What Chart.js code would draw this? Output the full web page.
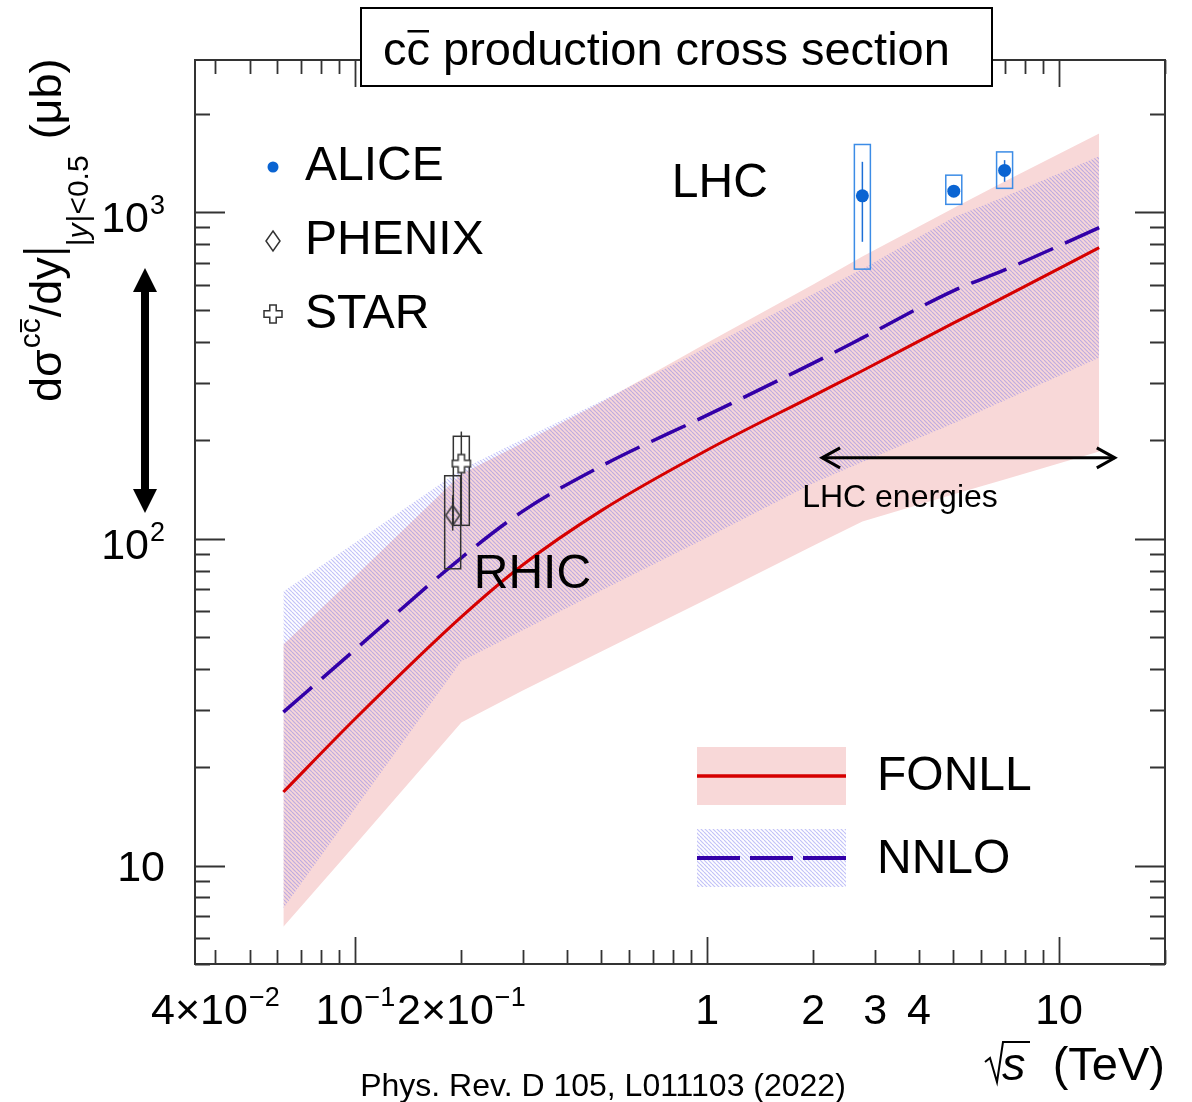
<!DOCTYPE html>
<html>
<head>
<meta charset="utf-8">
<title>ccbar production cross section</title>
<script src="https://cdn.jsdelivr.net/npm/chart.js@4.4.1/dist/chart.umd.min.js"></script>
<style>
  html, body { margin: 0; padding: 0; background: #fff; }
</style>
</head>
<body>
<canvas id="xsecChart" width="1192" height="1102"></canvas>
<script>

// sqrt(s) in TeV where the calculations are evaluated
var energies = [0.0624, 0.1, 0.2, 0.3, 0.5, 1, 2, 2.76, 5.02, 7, 13];

// dsigma/dy (mub), |y|<0.5
var fonllCentral = [16.8, 28.2, 57.7, 83.5, 122, 187, 274, 327, 458, 550, 778];
var fonllUpper   = [47.5, 77, 158, 197, 262, 398, 600, 731, 1029, 1241, 1741];
var fonllLower   = [6.5, 11.6, 27.4, 34.4, 45.2, 65.5, 95.3, 113, 137, 152, 185];

var nnloCentral = [29.5, 45.9, 87.5, 121.8, 167, 239, 345, 412, 575, 665, 896];
var nnloUpper   = [69, 97.5, 163, 202, 264, 386, 561, 670, 965, 1115, 1483];
var nnloLower   = [7.4, 15.0, 42.2, 52.6, 69.5, 101, 148, 172, 226, 265, 358];

// measurements
var aliceEnergy   = [2.76, 5.02, 7];
var aliceXsec     = [1121, 1159, 1341];
var aliceStatLow  = [811, 1120, 1238];
var aliceStatHigh = [1425, 1200, 1442];
var aliceSysLow   = [669, 1056, 1182];
var aliceSysHigh  = [1610, 1297, 1528];

var phenixEnergy   = [0.189];
var phenixXsec     = [118];
var phenixStatLow  = [106];
var phenixStatHigh = [136];
var phenixSysLow   = [81];
var phenixSysHigh  = [156];

var starEnergy   = [0.2];
var starXsec     = [170];
var starStatLow  = [110];
var starStatHigh = [213];
var starSysLow   = [110];
var starSysHigh  = [206];

// axis labels
var xTickLabels = [
	{ v: 0.04, base: '4×10', exp: '−2' },
	{ v: 0.1, base: '10', exp: '−1' },
	{ v: 0.2, base: '2×10', exp: '−1' },
	{ v: 1, base: '1' },
	{ v: 2, base: '2' },
	{ v: 3, base: '3' },
	{ v: 4, base: '4' },
	{ v: 10, base: '10' }
];
var yTickLabels = [
	{ v: 10, base: '10' },
	{ v: 100, base: '10', exp: '2' },
	{ v: 1000, base: '10', exp: '3' }
];

var FONT = '"Liberation Sans", Arial, Helvetica, sans-serif';
var PINK = '#f8d8d8';
var RED = '#d60000';
var NNLO_BLUE = '#3300a8';
var ALICE_BLUE = '#0a64d2';

function toXY(xs, ys) {
	var out = [];
	for (var i = 0; i < xs.length; i++) {
		out.push({ x: xs[i], y: ys[i] });
	}
	return out;
}

function makeHatch() {
	var s = 4;
	var c = document.createElement('canvas');
	c.width = s; c.height = s;
	var g = c.getContext('2d');
	g.strokeStyle = 'rgba(110, 110, 235, 0.42)';
	g.lineWidth = 1.2;
	for (var k = -1; k <= 1; k++) {
		g.beginPath();
		g.moveTo(k * s, 0);
		g.lineTo(k * s + s, s);
		g.stroke();
	}
	return document.getElementById('xsecChart').getContext('2d').createPattern(c, 'repeat');
}

function makeDiamond() {
	var c = document.createElement('canvas');
	c.width = 18; c.height = 24;
	var g = c.getContext('2d');
	g.strokeStyle = '#333';
	g.lineWidth = 1.5;
	g.beginPath();
	g.moveTo(9, 2); g.lineTo(16, 12); g.lineTo(9, 22); g.lineTo(2, 12);
	g.closePath();
	g.stroke();
	return c;
}

function makeOpenCross() {
	var c = document.createElement('canvas');
	c.width = 22; c.height = 22;
	var g = c.getContext('2d');
	var m = 11, a = 9, b = 3.2;
	g.beginPath();
	g.moveTo(m - b, m - a); g.lineTo(m + b, m - a); g.lineTo(m + b, m - b);
	g.lineTo(m + a, m - b); g.lineTo(m + a, m + b); g.lineTo(m + b, m + b);
	g.lineTo(m + b, m + a); g.lineTo(m - b, m + a); g.lineTo(m - b, m + b);
	g.lineTo(m - a, m + b); g.lineTo(m - a, m - b); g.lineTo(m - b, m - b);
	g.closePath();
	g.fillStyle = '#fff';
	g.fill();
	g.strokeStyle = '#333';
	g.lineWidth = 1.5;
	g.stroke();
	return c;
}

var hatch = makeHatch();
var diamondMarker = makeDiamond();
var crossMarker = makeOpenCross();

// text with a superscript part, returns drawn width
function powerText(ctx, base, exp, x, y, size, align) {
	ctx.font = size + 'px ' + FONT;
	var wb = ctx.measureText(base).width;
	var es = Math.round(size * 0.62);
	var we = 0;
	if (exp) {
		ctx.font = es + 'px ' + FONT;
		we = ctx.measureText(exp).width + 1;
	}
	var w = wb + we;
	var x0 = x;
	if (align === 'center') x0 = x - w / 2;
	if (align === 'right') x0 = x - w;
	ctx.textAlign = 'left';
	ctx.textBaseline = 'alphabetic';
	ctx.font = size + 'px ' + FONT;
	ctx.fillText(base, x0, y);
	if (exp) {
		ctx.font = es + 'px ' + FONT;
		ctx.fillText(exp, x0 + wb + 1, y - size * 0.42);
	}
	return w;
}

function drawErrors(ctx, xs, statLow, statHigh, sysLow, sysHigh, boxColor, barColor, sx, sy) {
	for (var i = 0; i < xs.length; i++) {
		var px = sx.getPixelForValue(xs[i]);
		ctx.strokeStyle = boxColor;
		ctx.lineWidth = 1.5;
		var t = sy.getPixelForValue(sysHigh[i]);
		var b = sy.getPixelForValue(sysLow[i]);
		ctx.strokeRect(px - 8, t, 16, b - t);
		ctx.strokeStyle = barColor;
		ctx.beginPath();
		ctx.moveTo(px, sy.getPixelForValue(statHigh[i]));
		ctx.lineTo(px, sy.getPixelForValue(statLow[i]));
		ctx.stroke();
	}
}

var errorBoxes = {
	id: 'errorBoxes',
	afterDatasetDraw: function(chart, args) {
		// boxes go under the markers, right after the central curves
		if (args.index !== 3) return;
		var ctx = chart.ctx, sx = chart.scales.x, sy = chart.scales.y;
		ctx.save();
		drawErrors(ctx, aliceEnergy, aliceStatLow, aliceStatHigh, aliceSysLow, aliceSysHigh, '#3c8ce6', '#1e6fd6', sx, sy);
		drawErrors(ctx, phenixEnergy, phenixStatLow, phenixStatHigh, phenixSysLow, phenixSysHigh, '#333', '#333', sx, sy);
		drawErrors(ctx, starEnergy, starStatLow, starStatHigh, starSysLow, starSysHigh, '#333', '#333', sx, sy);
		ctx.restore();
	}
};

function arrowHead(ctx, x, y, dx, dy, len, half) {
	// open chevron pointing along (dx, dy)
	ctx.beginPath();
	ctx.moveTo(x - dx * len - dy * half, y - dy * len + dx * half);
	ctx.lineTo(x, y);
	ctx.lineTo(x - dx * len + dy * half, y - dy * len - dx * half);
	ctx.stroke();
}

var frameAndText = {
	id: 'frameAndText',
	afterDraw: function(chart) {
		var ctx = chart.ctx, ca = chart.chartArea;
		var sx = chart.scales.x, sy = chart.scales.y;
		ctx.save();

		// frame
		ctx.strokeStyle = '#333';
		ctx.lineWidth = 2;
		ctx.strokeRect(ca.left, ca.top, ca.right - ca.left, ca.bottom - ca.top);

		// ticks, ROOT style (inside, mirrored)
		ctx.lineWidth = 1.8;
		ctx.beginPath();
		var d, m, v, p, len;
		for (d = 0.01; d <= 10; d *= 10) {
			for (m = 1; m <= 9; m++) {
				v = m * d;
				if (v < sx.min || v > sx.max) continue;
				p = Math.round(sx.getPixelForValue(v)) + 0.5;
				len = (m === 1) ? 27 : 14;
				ctx.moveTo(p, ca.bottom); ctx.lineTo(p, ca.bottom - len);
				ctx.moveTo(p, ca.top); ctx.lineTo(p, ca.top + len);
			}
		}
		for (d = 1; d <= 1000; d *= 10) {
			for (m = 1; m <= 9; m++) {
				v = m * d;
				if (v < sy.min || v > sy.max) continue;
				p = Math.round(sy.getPixelForValue(v)) + 0.5;
				len = (m === 1) ? 30 : 15;
				ctx.moveTo(ca.left, p); ctx.lineTo(ca.left + len, p);
				ctx.moveTo(ca.right, p); ctx.lineTo(ca.right - len, p);
			}
		}
		ctx.stroke();

		// tick labels
		ctx.fillStyle = '#000';
		var i, t;
		for (i = 0; i < xTickLabels.length; i++) {
			t = xTickLabels[i];
			powerText(ctx, t.base, t.exp, sx.getPixelForValue(t.v), ca.bottom + 60, 43, 'center');
		}
		for (i = 0; i < yTickLabels.length; i++) {
			t = yTickLabels[i];
			var yy = sy.getPixelForValue(t.v) + (t.exp ? 20 : 15);
			powerText(ctx, t.base, t.exp, ca.left - 30, yy, 43, 'right');
		}

		// x axis title: sqrt(s) (TeV)
		ctx.font = '47px ' + FONT;
		ctx.textAlign = 'right';
		ctx.fillText('(TeV)', ca.right, 1080);
		ctx.font = 'italic 47px ' + FONT;
		ctx.textAlign = 'left';
		ctx.fillText('s', 1002, 1080);
		ctx.lineWidth = 2;
		ctx.strokeStyle = '#000';
		ctx.beginPath();
		ctx.moveTo(985, 1062); ctx.lineTo(990, 1058); ctx.lineTo(997, 1082);
		ctx.lineTo(1003, 1042); ctx.lineTo(1030, 1042);
		ctx.stroke();

		// y axis title
		ctx.save();
		ctx.translate(61, 402);
		ctx.rotate(-Math.PI / 2);
		ctx.textAlign = 'left';
		ctx.textBaseline = 'alphabetic';
		var f = 45, x = 0;
		ctx.font = f + 'px ' + FONT;
		ctx.fillText('dσ', x, 0);
		x += ctx.measureText('dσ').width + 1;
		var fs = 30;
		ctx.font = fs + 'px ' + FONT;
		ctx.fillText('cc', x, -21);
		var wc = ctx.measureText('c').width;
		ctx.fillRect(x + wc + 1, -41, wc - 2, 2);
		x += ctx.measureText('cc').width + 1;
		ctx.font = f + 'px ' + FONT;
		ctx.fillText('/dy', x, 0);
		x += ctx.measureText('/dy').width + 6;
		ctx.lineWidth = 3;
		ctx.beginPath();
		ctx.moveTo(x, 9); ctx.lineTo(x, -38);
		ctx.stroke();
		x += 5;
		ctx.font = fs + 'px ' + FONT;
		ctx.fillText('|', x, 27);
		x += ctx.measureText('|').width;
		ctx.font = 'italic ' + fs + 'px ' + FONT;
		ctx.fillText('y', x, 27);
		x += ctx.measureText('y').width + 1;
		ctx.font = fs + 'px ' + FONT;
		ctx.fillText('|<0.5', x, 27);
		x += ctx.measureText('|<0.5').width + 16;
		ctx.font = f + 'px ' + FONT;
		ctx.fillText('(μb)', x, 0);
		ctx.restore();

		// source
		ctx.font = '32px ' + FONT;
		ctx.textAlign = 'center';
		ctx.fillText('Phys. Rev. D 105, L011103 (2022)', 603, 1096);

		// title box
		ctx.fillStyle = '#fff';
		ctx.fillRect(361, 8, 631, 78);
		ctx.strokeStyle = '#000';
		ctx.lineWidth = 2;
		ctx.strokeRect(361, 8, 631, 78);
		ctx.fillStyle = '#000';
		ctx.font = '47px ' + FONT;
		ctx.textAlign = 'left';
		var tx = 383;
		ctx.fillText('cc production cross section', tx, 65);
		var cw = ctx.measureText('c').width;
		ctx.fillRect(tx + cw + 1, 30, cw - 2, 2.5);

		// left vertical double arrow
		var ax = ca.left - 50;
		var aTop = sy.getPixelForValue(674), aBot = sy.getPixelForValue(120);
		ctx.fillStyle = '#000';
		ctx.fillRect(ax - 4, aTop + 20, 8, aBot - aTop - 40);
		ctx.beginPath();
		ctx.moveTo(ax, aTop); ctx.lineTo(ax + 12, aTop + 24); ctx.lineTo(ax - 12, aTop + 24);
		ctx.closePath(); ctx.fill();
		ctx.beginPath();
		ctx.moveTo(ax, aBot); ctx.lineTo(ax + 12, aBot - 24); ctx.lineTo(ax - 12, aBot - 24);
		ctx.closePath(); ctx.fill();

		// LHC energies arrow
		var y0 = sy.getPixelForValue(177);
		var x1 = sx.getPixelForValue(2.12), x2 = sx.getPixelForValue(14.4);
		ctx.strokeStyle = '#000';
		ctx.lineWidth = 3;
		ctx.beginPath();
		ctx.moveTo(x1, y0); ctx.lineTo(x2, y0);
		ctx.stroke();
		arrowHead(ctx, x1, y0, -1, 0, 18, 10);
		arrowHead(ctx, x2, y0, 1, 0, 18, 10);
		ctx.font = '32px ' + FONT;
		ctx.textAlign = 'center';
		ctx.fillText('LHC energies', sx.getPixelForValue(3.53), sy.getPixelForValue(125));

		// region labels
		ctx.font = '48px ' + FONT;
		ctx.textAlign = 'left';
		ctx.fillText('LHC', sx.getPixelForValue(0.793), sy.getPixelForValue(1111));
		ctx.fillText('RHIC', sx.getPixelForValue(0.217), sy.getPixelForValue(70.8));

		// legend: measurements
		var lx = ca.left + 78;
		ctx.fillStyle = ALICE_BLUE;
		ctx.beginPath();
		ctx.arc(lx, 167, 5.5, 0, Math.PI * 2);
		ctx.fill();
		ctx.drawImage(diamondMarker, lx - 9, 241 - 12);
		ctx.drawImage(crossMarker, lx - 11, 314 - 11);
		ctx.fillStyle = '#000';
		ctx.font = '48px ' + FONT;
		ctx.textBaseline = 'middle';
		ctx.fillText('ALICE', lx + 32, 167);
		ctx.fillText('PHENIX', lx + 32, 241);
		ctx.fillText('STAR', lx + 32, 315);

		// legend: calculations
		ctx.fillStyle = PINK;
		ctx.fillRect(697, 747, 149, 58);
		ctx.strokeStyle = RED;
		ctx.lineWidth = 3.5;
		ctx.beginPath();
		ctx.moveTo(697, 776); ctx.lineTo(846, 776);
		ctx.stroke();
		ctx.fillStyle = hatch;
		ctx.fillRect(697, 829, 149, 58);
		ctx.strokeStyle = NNLO_BLUE;
		ctx.lineWidth = 4;
		ctx.setLineDash([43, 10]);
		ctx.beginPath();
		ctx.moveTo(697, 858); ctx.lineTo(846, 858);
		ctx.stroke();
		ctx.setLineDash([]);
		ctx.fillStyle = '#000';
		ctx.fillText('FONLL', 877, 777);
		ctx.fillText('NNLO', 877, 860);

		ctx.restore();
	}
};

var ctx = document.getElementById('xsecChart');

var xsecChart = new Chart(ctx, {
	type: 'line',
	data: {
		datasets: [{
			label: 'ALICE',
			data: toXY(aliceEnergy, aliceXsec),
			showLine: false,
			pointStyle: 'circle',
			pointRadius: 6.5,
			pointBackgroundColor: ALICE_BLUE,
			pointBorderWidth: 0
		}, {
			label: 'PHENIX',
			data: toXY(phenixEnergy, phenixXsec),
			showLine: false,
			pointStyle: diamondMarker,
			pointRadius: 9
		}, {
			label: 'STAR',
			data: toXY(starEnergy, starXsec),
			showLine: false,
			pointStyle: crossMarker,
			pointRadius: 9
		}, {
			label: 'FONLL',
			data: toXY(energies, fonllCentral),
			borderColor: RED,
			borderWidth: 3,
			pointRadius: 0,
			cubicInterpolationMode: 'monotone',
			fill: false
		}, {
			label: 'NNLO',
			data: toXY(energies, nnloCentral),
			borderColor: NNLO_BLUE,
			borderWidth: 3.5,
			borderDash: [38, 13],
			pointRadius: 0,
			cubicInterpolationMode: 'monotone',
			fill: false
		}, {
			label: 'NNLO upper',
			data: toXY(energies, nnloUpper),
			borderWidth: 0,
			borderColor: 'rgba(0,0,0,0)',
			backgroundColor: hatch,
			pointRadius: 0,
			fill: '+1'
		}, {
			label: 'NNLO lower',
			data: toXY(energies, nnloLower),
			borderWidth: 0,
			borderColor: 'rgba(0,0,0,0)',
			pointRadius: 0,
			fill: false
		}, {
			label: 'FONLL upper',
			data: toXY(energies, fonllUpper),
			borderWidth: 0,
			borderColor: 'rgba(0,0,0,0)',
			backgroundColor: PINK,
			pointRadius: 0,
			fill: '+1'
		}, {
			label: 'FONLL lower',
			data: toXY(energies, fonllLower),
			borderWidth: 0,
			borderColor: 'rgba(0,0,0,0)',
			pointRadius: 0,
			fill: false
		}]
	},
	options: {
		responsive: false,
		animation: false,
		devicePixelRatio: 1,
		layout: { padding: { left: 0, right: 27, top: 60, bottom: 0 } },
		plugins: {
			legend: { display: false },
			tooltip: { enabled: false },
			title: { display: false }
		},
		scales: {
			x: {
				type: 'logarithmic',
				min: 0.035,
				max: 20,
				grid: { display: false },
				border: { display: false },
				ticks: { display: false },
				afterFit: function(s) { s.height = 138; }
			},
			y: {
				type: 'logarithmic',
				min: 5,
				max: 2920,
				grid: { display: false },
				border: { display: false },
				ticks: { display: false },
				afterFit: function(s) { s.width = 195; }
			}
		}
	},
	plugins: [errorBoxes, frameAndText]
});
</script>
</body>
</html>
